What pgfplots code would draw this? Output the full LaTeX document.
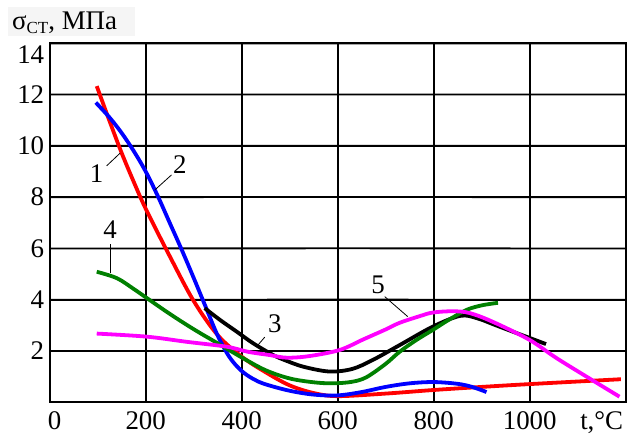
\documentclass[border=0pt]{standalone}
\usepackage{pgfplots}
\pgfplotsset{compat=1.18}
\usepackage{fontspec}
\setmainfont{Liberation Serif}
\definecolor{cgreen}{RGB}{0,128,0}
\definecolor{cmag}{RGB}{255,0,255}
\definecolor{cred}{RGB}{255,0,0}
\definecolor{cblue}{RGB}{0,0,255}
\begin{document}
\begin{tikzpicture}
\useasboundingbox (0bp,0bp) rectangle (629bp,435bp);
\fill[gray!8] (8bp,399bp) rectangle (135bp,428bp);
\node[anchor=base west, inner sep=0pt, font=\fontsize{27}{30}\selectfont] at (12bp,405bp) {σ\raisebox{-0.25ex}{\fontsize{17}{17}\selectfont СТ}, МПа};
\begin{axis}[
  at={(49.7bp,32.7bp)}, anchor=south west,
  scale only axis, width=576bp, height=359bp,
  xmin=0, xmax=1200, ymin=0, ymax=14,
  xtick={200,400,...,1000}, ytick={2,4,6,8,10,12},
  extra x ticks={0}, extra x tick style={xticklabel style={xshift=5bp}},
  extra y ticks={14}, extra y tick style={yticklabel style={yshift=-11bp}},
  scaled x ticks=false, scaled y ticks=false,
  grid=major,
  major grid style={draw=black, line width=1.6bp},
  axis line style={black, line width=2bp},
  major tick length=0pt,
  tick label style={font=\fontsize{27}{30}\selectfont},
  xticklabel style={inner sep=0pt, yshift=-9bp},
  yticklabel style={xshift=-2bp},
  /pgf/number format/assume math mode=true,
  /pgf/number format/1000 sep={},
  clip=false,
  every axis plot/.append style={line width=3.8bp, smooth, tension=0.55, no markers},
]
% horizontal grid lines drawn as slightly tilted plain lines
\addplot[black, line width=1.8bp, sharp plot, forget plot] coordinates {(0,2) (600,2.004) (1200,2)};
\addplot[black, line width=1.8bp, sharp plot, forget plot] coordinates {(0,4) (600,4.004) (1200,4)};
\addplot[black, line width=1.8bp, sharp plot, forget plot] coordinates {(0,6) (600,6.004) (1200,6)};
\addplot[black, line width=1.8bp, sharp plot, forget plot] coordinates {(0,8) (600,8.004) (1200,8)};
\addplot[black, line width=1.8bp, sharp plot, forget plot] coordinates {(0,10) (600,10.004) (1200,10)};
\addplot[black, line width=1.8bp, sharp plot, forget plot] coordinates {(0,12) (600,12.004) (1200,12)};
\addplot[black, line width=2.2bp, sharp plot, forget plot] coordinates {(0,14) (600,13.996) (1200,14)};
% 1 red
\addplot[cred] coordinates {(98,12.33) (125,10.95) (150,9.72) (175,8.6) (200,7.55) (250,5.7) (300,3.95) (350,2.62) (400,1.78) (450,1.17) (500,0.66) (550,0.36) (600,0.24) (700,0.34) (800,0.48) (900,0.6) (1000,0.71) (1190,0.9)};
% 2 blue
\addplot[cblue] coordinates {(96,11.69) (125,11.1) (150,10.5) (175,9.8) (200,9.0) (225,8.05) (250,7.0) (275,5.95) (300,4.85) (325,3.72) (350,2.6) (375,1.75) (400,1.22) (425,0.9) (450,0.7) (500,0.45) (550,0.3) (600,0.27) (650,0.4) (700,0.6) (750,0.74) (800,0.79) (850,0.72) (880,0.6) (910,0.4)};
% 3 black
\addplot[black] coordinates {(323,3.67) (355,3.21) (390,2.75) (424,2.3) (465,1.85) (493,1.62) (530,1.38) (583,1.2) (630,1.3) (673,1.65) (729,2.23) (798,2.95) (855,3.37) (890,3.28) (937,2.95) (1034,2.27)};
% 4 green
\addplot[cgreen] coordinates {(98,5.09) (140,4.84) (175,4.42) (202,4.07) (250,3.45) (300,2.85) (350,2.3) (400,1.75) (450,1.25) (500,0.93) (550,0.78) (590,0.74) (630,0.8) (660,0.98) (700,1.5) (729,1.97) (764,2.43) (798,2.82) (830,3.2) (868,3.6) (900,3.78) (934,3.88)};
% 5 magenta
\addplot[cmag] coordinates {(98,2.68) (202,2.56) (285,2.36) (368,2.17) (413,1.97) (459,1.84) (493,1.74) (540,1.8) (604,2.04) (653,2.45) (701,2.85) (729,3.1) (771,3.36) (798,3.5) (840,3.55) (875,3.48) (923,3.14) (1000,2.43) (1062,1.65) (1187,0.22)};
% labels
\draw[black, line width=0.8bp] (axis cs:118.6,9.22) -- (axis cs:146.3,9.71);
\draw[black, line width=0.8bp] (axis cs:253.9,8.87) -- (axis cs:219,8.28);
\draw[black, line width=0.8bp] (axis cs:448,2.54) -- (axis cs:431,2.17);
\draw[black, line width=0.8bp] (axis cs:125.7,6.16) -- (axis cs:125.7,5.03);
\draw[black, line width=0.8bp] (axis cs:698,4.12) -- (axis cs:746,3.34);
\node[font=\fontsize{27}{30}\selectfont, inner sep=0pt] at (axis cs:97.8,8.93) {1};
\node[font=\fontsize{27}{30}\selectfont, inner sep=0pt] at (axis cs:271,9.26) {2};
\node[font=\fontsize{27}{30}\selectfont, inner sep=0pt] at (axis cs:469,3.08) {3};
\node[font=\fontsize{27}{30}\selectfont, inner sep=0pt] at (axis cs:125.6,6.72) {4};
\node[font=\fontsize{27}{30}\selectfont, inner sep=0pt] at (axis cs:684,4.57) {5};
\node[font=\fontsize{27}{30}\selectfont, anchor=north, inner sep=0pt, yshift=-9bp] at (axis cs:1150,0) {t,°C};
\end{axis}
\end{tikzpicture}
\end{document}
